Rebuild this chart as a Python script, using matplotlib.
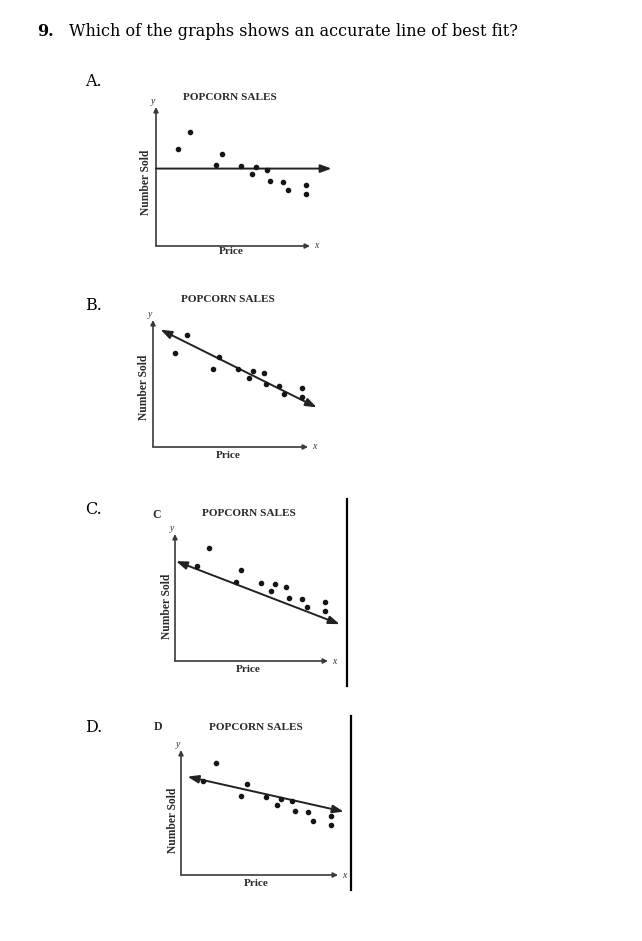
import matplotlib
matplotlib.use("Agg")
import matplotlib.pyplot as plt
from matplotlib.lines import Line2D

W, H = 642, 941

#-------------------------------------------------------------#
# Data (Price, Number Sold), 0..10 scale
#-------------------------------------------------------------#
price_a = [1.43, 2.20, 4.28, 3.91, 5.55, 6.26, 6.52, 7.19, 7.41, 8.25, 8.60, 9.72, 9.72]
sold_a = [6.96, 8.21, 6.65, 5.81, 5.77, 5.19, 5.65, 5.45, 4.69, 4.64, 4.02, 4.40, 3.73]
fit_a_x = [0.0, 11.4]
fit_a_y = [5.57, 5.57]

price_b = [1.39, 2.18, 4.24, 3.85, 5.50, 6.21, 6.47, 7.15, 7.32, 8.16, 8.48, 9.61, 9.61]
sold_b = [7.43, 8.82, 7.12, 6.15, 6.15, 5.47, 5.99, 5.81, 4.95, 4.84, 4.21, 4.63, 3.90]
fit_b_x = [0.49, 10.56]
fit_b_y = [9.24, 3.12]

price_c = [2.22, 1.41, 4.30, 3.96, 5.59, 6.30, 6.54, 7.24, 7.46, 8.30, 8.63, 9.78, 9.78]
sold_c = [8.89, 7.49, 7.15, 6.20, 6.17, 5.51, 6.04, 5.86, 4.99, 4.91, 4.25, 4.67, 3.91]
fit_c_x = [0.07, 10.76]
fit_c_y = [7.86, 2.90]

price_d = [2.20, 1.38, 4.22, 3.81, 5.44, 6.14, 6.40, 7.08, 7.25, 8.09, 8.41, 9.53, 9.53]
sold_d = [8.99, 7.55, 7.28, 6.32, 6.27, 5.60, 6.11, 5.95, 5.09, 5.01, 4.35, 4.72, 4.00]
fit_d_x = [0.42, 10.36]
fit_d_y = [7.87, 5.07]

option_labels = ["A.", "B.", "C.", "D."]
panel_letters = ["", "", "C", "D"]
question = "Which of the graphs shows an accurate line of best fit?"

#-------------------------------------------------------------#
# Layout in pixels: origin x, origin y, x-arrow tip, y-arrow tip
#-------------------------------------------------------------#
panels = [
    dict(ox=156, oy=246, xt=310, yt=107, label_y=82, title=(230, 97),
         ylab=(146, 182), xlab=(231, 252), px=price_a, py=sold_a,
         fx=fit_a_x, fy=fit_a_y, both=False),
    dict(ox=153, oy=447, xt=308, yt=320, label_y=305, title=(228, 300),
         ylab=(144, 387), xlab=(228, 456), px=price_b, py=sold_b,
         fx=fit_b_x, fy=fit_b_y, both=True),
    dict(ox=175, oy=661, xt=328, yt=534, label_y=510, title=(249, 514),
         ylab=(167, 606), xlab=(248, 669), px=price_c, py=sold_c,
         fx=fit_c_x, fy=fit_c_y, both=True, letter=(157, 515), bar=(347, 499, 686)),
    dict(ox=181, oy=875, xt=338, yt=750, label_y=727, title=(256, 728),
         ylab=(173, 820), xlab=(256, 883), px=price_d, py=sold_d,
         fx=fit_d_x, fy=fit_d_y, both=True, letter=(158, 727), bar=(351, 716, 890)),
]

serif = ["Liberation Serif", "DejaVu Serif"]


def fx_(x):
    return x / W


def fy_(y):
    return 1 - y / H


fig = plt.figure(figsize=(W / 100, H / 100), dpi=100)
fig.patch.set_facecolor("white")

fig.text(fx_(37), fy_(32), "9.", fontsize=11.5, fontweight="bold",
         family="DejaVu Serif", va="center", ha="left")
fig.text(fx_(69), fy_(32), question, fontsize=11.5, family="DejaVu Serif",
         va="center", ha="left")

for i, p in enumerate(panels):
    fig.text(fx_(85), fy_(p["label_y"]), option_labels[i], fontsize=11.5,
             family="DejaVu Serif", va="center", ha="left")

    ax = fig.add_axes([fx_(p["ox"]), fy_(p["oy"]),
                       (p["xt"] - p["ox"]) / W, (p["oy"] - p["yt"]) / H])
    ax.set_xlim(0, 10)
    ax.set_ylim(0, 10)
    ax.axis("off")

    axis_col = "#3a3a3a"
    # axes with arrow heads
    ax.annotate("", xy=(0, 10), xytext=(0, 0),
                arrowprops=dict(arrowstyle="-|>", color=axis_col, lw=1.2,
                                mutation_scale=7, shrinkA=0, shrinkB=0),
                annotation_clip=False)
    ax.annotate("", xy=(10, 0), xytext=(0, 0),
                arrowprops=dict(arrowstyle="-|>", color=axis_col, lw=1.2,
                                mutation_scale=7, shrinkA=0, shrinkB=0),
                annotation_clip=False)

    # fit line
    style = "<|-|>" if p["both"] else "-|>"
    ax.annotate("", xy=(p["fx"][1], p["fy"][1]), xytext=(p["fx"][0], p["fy"][0]),
                arrowprops=dict(arrowstyle=style + ",head_length=0.55,head_width=0.2",
                                color="#222222", lw=1.4,
                                mutation_scale=12, shrinkA=0, shrinkB=0),
                annotation_clip=False)

    ax.scatter(p["px"], p["py"], s=9, color="#151515", zorder=3, clip_on=False)

    ax.text(-0.2, 10.1, "y", fontsize=7, style="italic", family=serif,
            ha="center", va="bottom", color="#333333")
    ax.text(10.25, 0, "x", fontsize=7, style="italic", family=serif,
            ha="left", va="center", color="#333333")

    fig.text(fx_(p["title"][0]), fy_(p["title"][1]), "POPCORN SALES", fontsize=8.1,
             fontweight="bold", family=serif, ha="center", va="center", color="#2a2a2a")
    fig.text(fx_(p["ylab"][0]), fy_(p["ylab"][1]), "Number Sold", fontsize=8.3,
             fontweight="bold", family=serif, ha="center", va="center",
             rotation=90, color="#2a2a2a")
    fig.text(fx_(p["xlab"][0]), fy_(p["xlab"][1]), "Price", fontsize=8,
             fontweight="bold", family=serif, ha="center", va="center", color="#2a2a2a")

    if "letter" in p:
        fig.text(fx_(p["letter"][0]), fy_(p["letter"][1]), panel_letters[i], fontsize=8.5,
                 fontweight="bold", family=serif, ha="center", va="center", color="#2a2a2a")
    if "bar" in p:
        bx, by0, by1 = p["bar"]
        fig.add_artist(Line2D([fx_(bx), fx_(bx)], [fy_(by0), fy_(by1)],
                              color="black", lw=1.6))

fig.savefig("out.png", dpi=100)
